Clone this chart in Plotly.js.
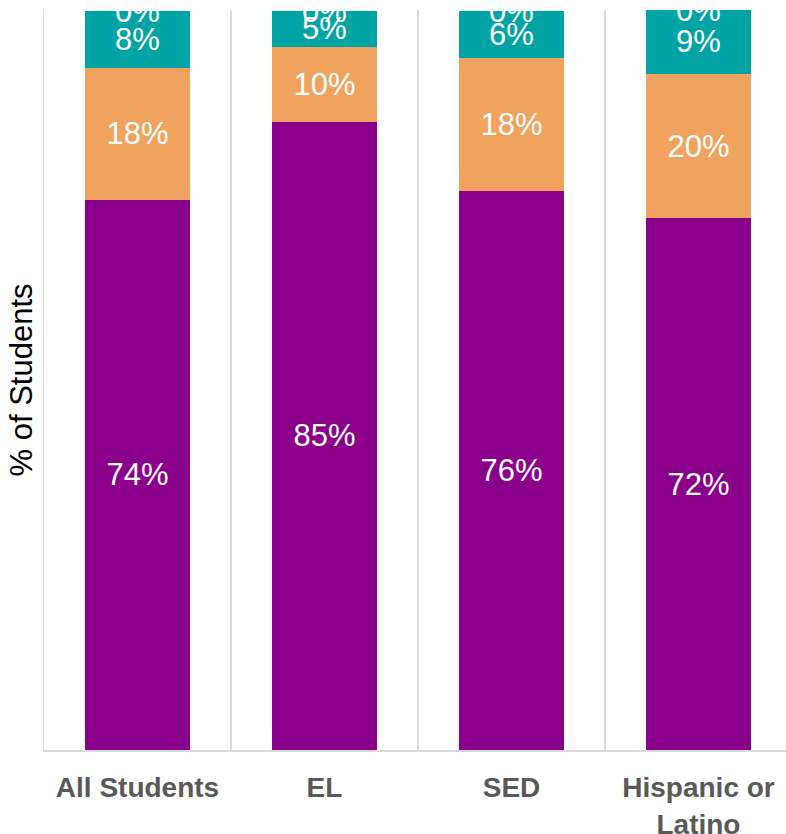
<!DOCTYPE html>
<html>
<head>
<meta charset="utf-8">
<script src="https://cdn.plot.ly/plotly-3.0.1.min.js"></script>
<style>html,body{margin:0;padding:0;background:#fff;}#chart{width:786px;height:834px;}</style>
</head>
<body>
<div id="chart"></div>
<script>
var categories = ["All Students", "EL", "SED", "Hispanic or<br>Latino"];
var seriesPurple = [74.4, 85.0, 75.6, 71.9];
var seriesOrange = [17.9, 10.1, 18.0, 19.6];
var seriesTeal = [7.7, 4.9, 6.4, 8.6];
var seriesZero = [0, 0, 0, 0];

var colors = {purple: "#8B008B", orange: "#F0A35E", teal: "#00A4A4"};
var labelFont = {family: "Liberation Sans, Arial, sans-serif", size: 31, color: "#ffffff"};

function barTrace(vals, color) {
  return {
    type: "bar", x: categories, y: vals,
    marker: {color: color, line: {width: 0}},
    texttemplate: "%{y:.0f}%", textposition: "inside", insidetextanchor: "middle",
    textangle: 0, constraintext: "none",
    textfont: labelFont, insidetextfont: labelFont,
    hoverinfo: "skip", showlegend: false
  };
}

var totals = categories.map(function (c, i) {
  return seriesPurple[i] + seriesOrange[i] + seriesTeal[i] + seriesZero[i];
});

var data = [
  barTrace(seriesPurple, colors.purple),
  barTrace(seriesOrange, colors.orange),
  barTrace(seriesTeal, colors.teal),
  {
    type: "scatter", mode: "text", x: categories,
    y: totals.map(function (t) { return t - 0.5; }),
    text: seriesZero.map(function (v) { return v.toFixed(0) + "%"; }),
    textposition: "middle center", textfont: labelFont,
    cliponaxis: true, hoverinfo: "skip", showlegend: false
  }
];

var layout = {
  width: 786, height: 834,
  margin: {l: 44, r: 0, t: 10, b: 84, pad: 0},
  paper_bgcolor: "#ffffff", plot_bgcolor: "#ffffff",
  barmode: "stack", bargap: 0.4385,
  showlegend: false,
  xaxis: {
    type: "category", range: [-0.5, 3.468],
    tickson: "boundaries", showgrid: true, gridcolor: "#d9d9d9", gridwidth: 1.5,
    showline: true, linecolor: "#d9d9d9", linewidth: 1.5,
    ticks: "", zeroline: false,
    tickfont: {family: "Liberation Sans, Arial, sans-serif", size: 28, color: "#595959", weight: "bold"},
    ticklabelstandoff: 12
  },
  yaxis: {
    range: [0, 100.1], showgrid: false, zeroline: false,
    showline: true, linecolor: "#d9d9d9", linewidth: 1.5,
    showticklabels: false, ticks: "",
    title: {text: "% of Students", standoff: 0,
      font: {family: "Liberation Sans, Arial, sans-serif", size: 31, color: "#000000"}}
  }
};

Plotly.newPlot("chart", data, layout, {displayModeBar: false, staticPlot: true});
</script>
</body>
</html>
